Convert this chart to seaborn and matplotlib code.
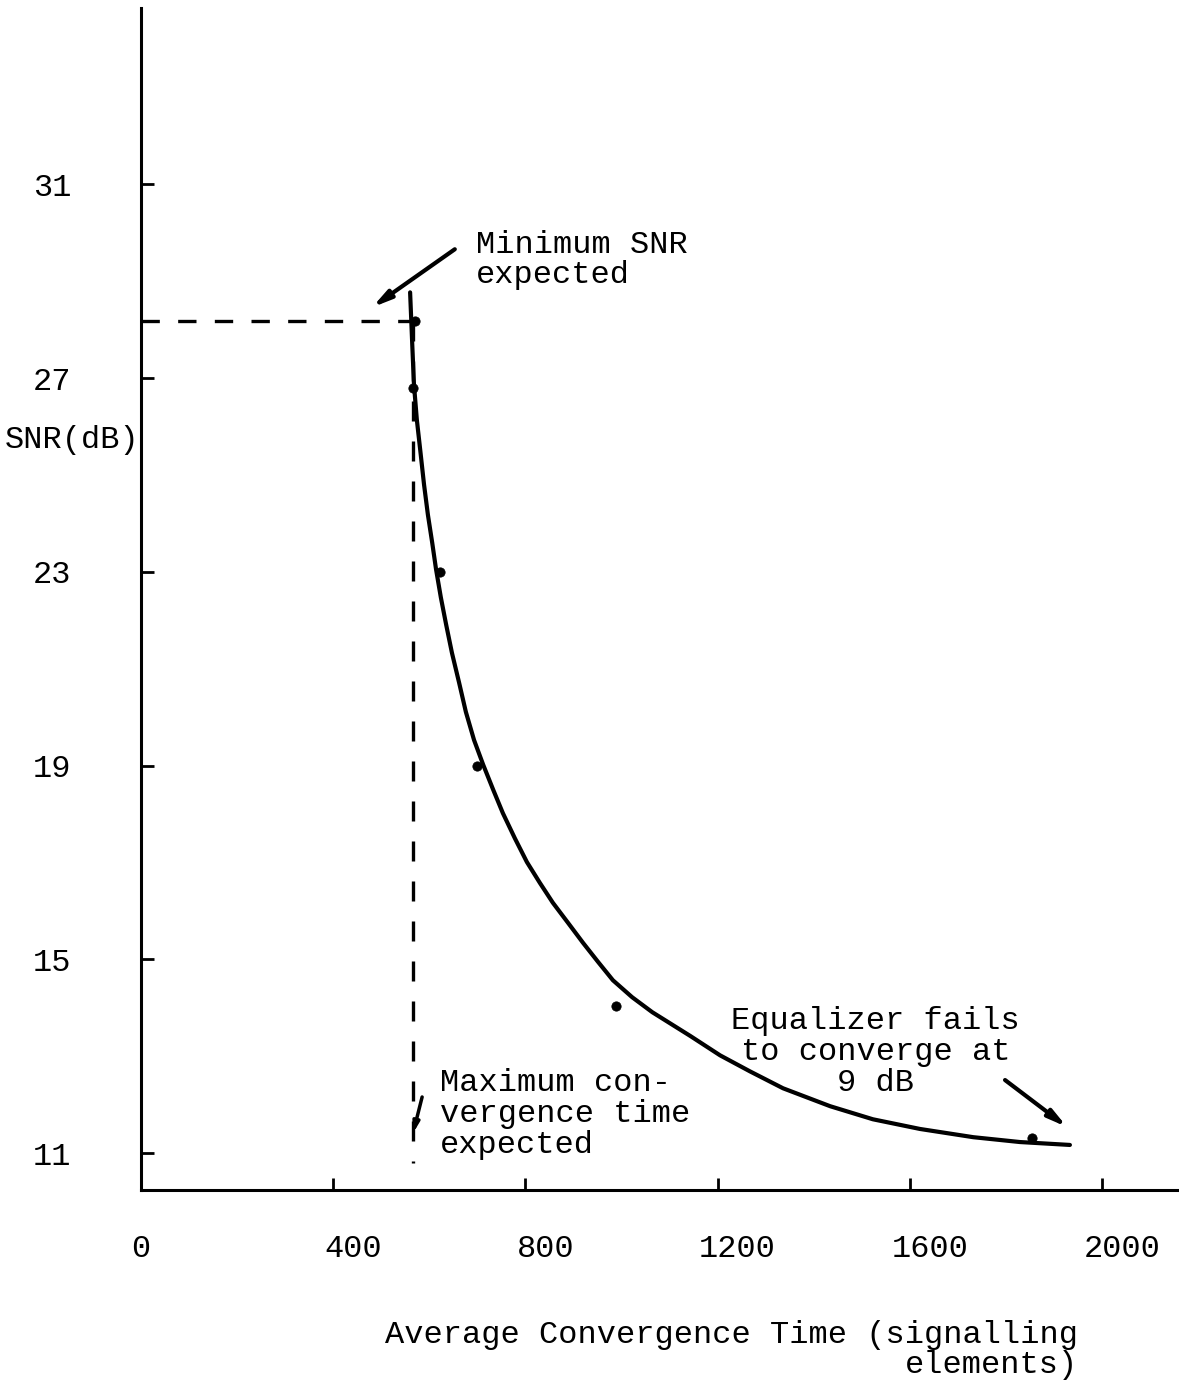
import matplotlib
matplotlib.use("Agg")
import matplotlib.pyplot as plt
import matplotlib.transforms as mtransforms
import pandas as pd
import seaborn as sns

# Fitted curve of SNR against average convergence time
curve_time = [560, 564, 568, 574, 581, 589, 597, 606, 614, 624, 635, 647,
              662, 676, 693, 712, 733, 753, 778, 803, 830, 857, 889, 920,
              951, 982, 1022, 1064, 1143, 1205, 1267, 1336, 1434, 1523,
              1621, 1732, 1829, 1933]
curve_snr = [28.77, 27.80, 26.87, 26.14, 25.52, 24.80, 24.18, 23.60, 23.05,
             22.47, 21.91, 21.33, 20.71, 20.11, 19.53, 19.02, 18.50, 18.02,
             17.50, 17.01, 16.58, 16.17, 15.75, 15.34, 14.95, 14.57, 14.22,
             13.91, 13.42, 13.02, 12.69, 12.34, 11.97, 11.70, 11.50, 11.33,
             11.23, 11.17]

# Measured points
meas_time = [570, 566, 622, 699, 989, 1854]
meas_snr = [28.17, 26.80, 23.00, 19.00, 14.04, 11.31]

# Design limits
min_snr = 28.17
max_time = 566

x_ticks = [0, 400, 800, 1200, 1600, 2000]
y_ticks = [11, 15, 19, 23, 27, 31]

sns.set_theme(style="white")
plt.rcParams["font.family"] = ["Liberation Mono", "DejaVu Sans Mono"]
plt.rcParams["text.color"] = "black"

FS = 23
fig = plt.figure(figsize=(11.79, 13.81), dpi=100)
ax = fig.add_axes([141 / 1179, 1 - 1190 / 1381, (1179 - 141) / 1179, (1190 - 8) / 1381])

curve = pd.DataFrame({"time": curve_time, "snr": curve_snr})
meas = pd.DataFrame({"time": meas_time, "snr": meas_snr})

sns.lineplot(data=curve, x="time", y="snr", sort=False, color="black",
             linewidth=3.0, ax=ax)
ax.lines[-1].set_solid_joinstyle("round")
ax.lines[-1].set_solid_capstyle("round")
sns.scatterplot(data=meas, x="time", y="snr", color="black", s=45,
                edgecolor="black", ax=ax, zorder=5)

# Dashed guide lines for the expected limits
ax.plot([0, max_time], [min_snr, min_snr], color="black", lw=2.4,
        dashes=(5.5, 5.5))
ax.plot([max_time, max_time], [min_snr, 10.8], color="black", lw=2.4,
        dashes=(6, 6))

ax.set_xlim(0, 2160)
ax.set_ylim(10.24, 34.64)

ax.set_xticks(x_ticks)
ax.set_xticklabels([str(v) for v in x_ticks], fontsize=FS)
ax.set_yticks(y_ticks)
ax.set_yticklabels([str(v) for v in y_ticks], fontsize=FS)
ax.tick_params(axis="x", direction="in", length=9, width=2, pad=32,
               colors="black", bottom=True)
ax.tick_params(axis="y", direction="in", length=9, width=2, pad=50,
               colors="black", left=True)
shift = mtransforms.ScaledTranslation(0.2, 0, fig.dpi_scale_trans)
for lab in ax.get_xticklabels()[1:]:
    lab.set_transform(lab.get_transform() + shift)

for side in ("top", "right"):
    ax.spines[side].set_visible(False)
for side in ("left", "bottom"):
    ax.spines[side].set_color("black")
    ax.spines[side].set_linewidth(2.2)

ax.set_xlabel("")
ax.set_ylabel("")

# Axis titles
fig.text(140 / 1179, 1 - 440 / 1381, "SNR(dB)", ha="right", va="center",
         fontsize=FS)
fig.text(1078 / 1179, 1 - 1320 / 1381,
         "Average Convergence Time (signalling\nelements)",
         ha="right", va="top", multialignment="right", fontsize=FS,
         linespacing=1.0)

arrow = dict(arrowstyle="-|>,head_length=0.9,head_width=0.22", lw=3,
             color="black", shrinkA=0, shrinkB=0)

ax.text(697, 30.05, "Minimum SNR\nexpected", ha="left", va="top",
        fontsize=FS, linespacing=0.97)
ax.annotate("", xy=(481, 28.46), xytext=(653, 29.66), arrowprops=arrow)

ax.text(622, 12.76, "Maximum con-\nvergence time\nexpected", ha="left",
        va="top", fontsize=FS, linespacing=1.04)
ax.annotate("", xy=(566, 11.41), xytext=(585, 12.16),
            arrowprops=dict(arrowstyle="-|>,head_length=0.5,head_width=0.15",
                            lw=2.5, color="black", shrinkA=0, shrinkB=0))

ax.text(1528, 14.03, "Equalizer fails\nto converge at\n9 dB", ha="center",
        va="top", multialignment="center", fontsize=FS, linespacing=1.04)
ax.annotate("", xy=(1927, 11.54), xytext=(1798, 12.51), arrowprops=arrow)

fig.savefig("out.png", dpi=100, facecolor="white")
